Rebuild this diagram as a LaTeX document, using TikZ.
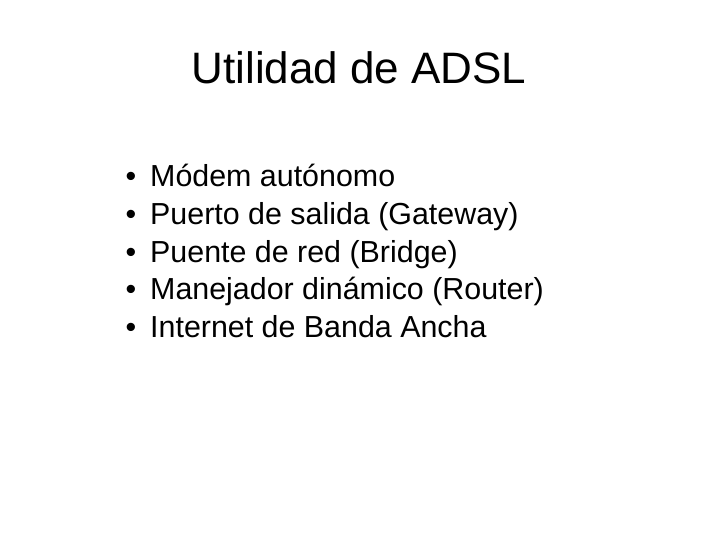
\documentclass[tikz,border=0pt]{standalone}
\usepackage{fontspec}
\setmainfont{Liberation Sans}
\begin{document}
\begin{tikzpicture}[x=1pt,y=-1pt,
  bul/.style={anchor=base,inner sep=0pt,font=\fontsize{30.4}{33}\selectfont},
  item/.style={anchor=base west,inner sep=0pt,font=\fontsize{30.4}{33}\selectfont}]
\useasboundingbox[fill=white] (0,0) rectangle (720,540);
\node[anchor=base,inner sep=0pt,font=\fontsize{44}{49}\selectfont] (title) at (359,84) {Utilidad de ADSL};
\foreach \t [count=\i] in {Módem autónomo,Puerto de salida (Gateway),Puente de red (Bridge),Manejador dinámico (Router),Internet de Banda Ancha}{
  \node[bul] (b\i) at (131,{187+37.5*(\i-1)}) {•};
  \node[item] (t\i) at (150,{187+37.5*(\i-1)}) {\t};
}
\end{tikzpicture}
\end{document}
